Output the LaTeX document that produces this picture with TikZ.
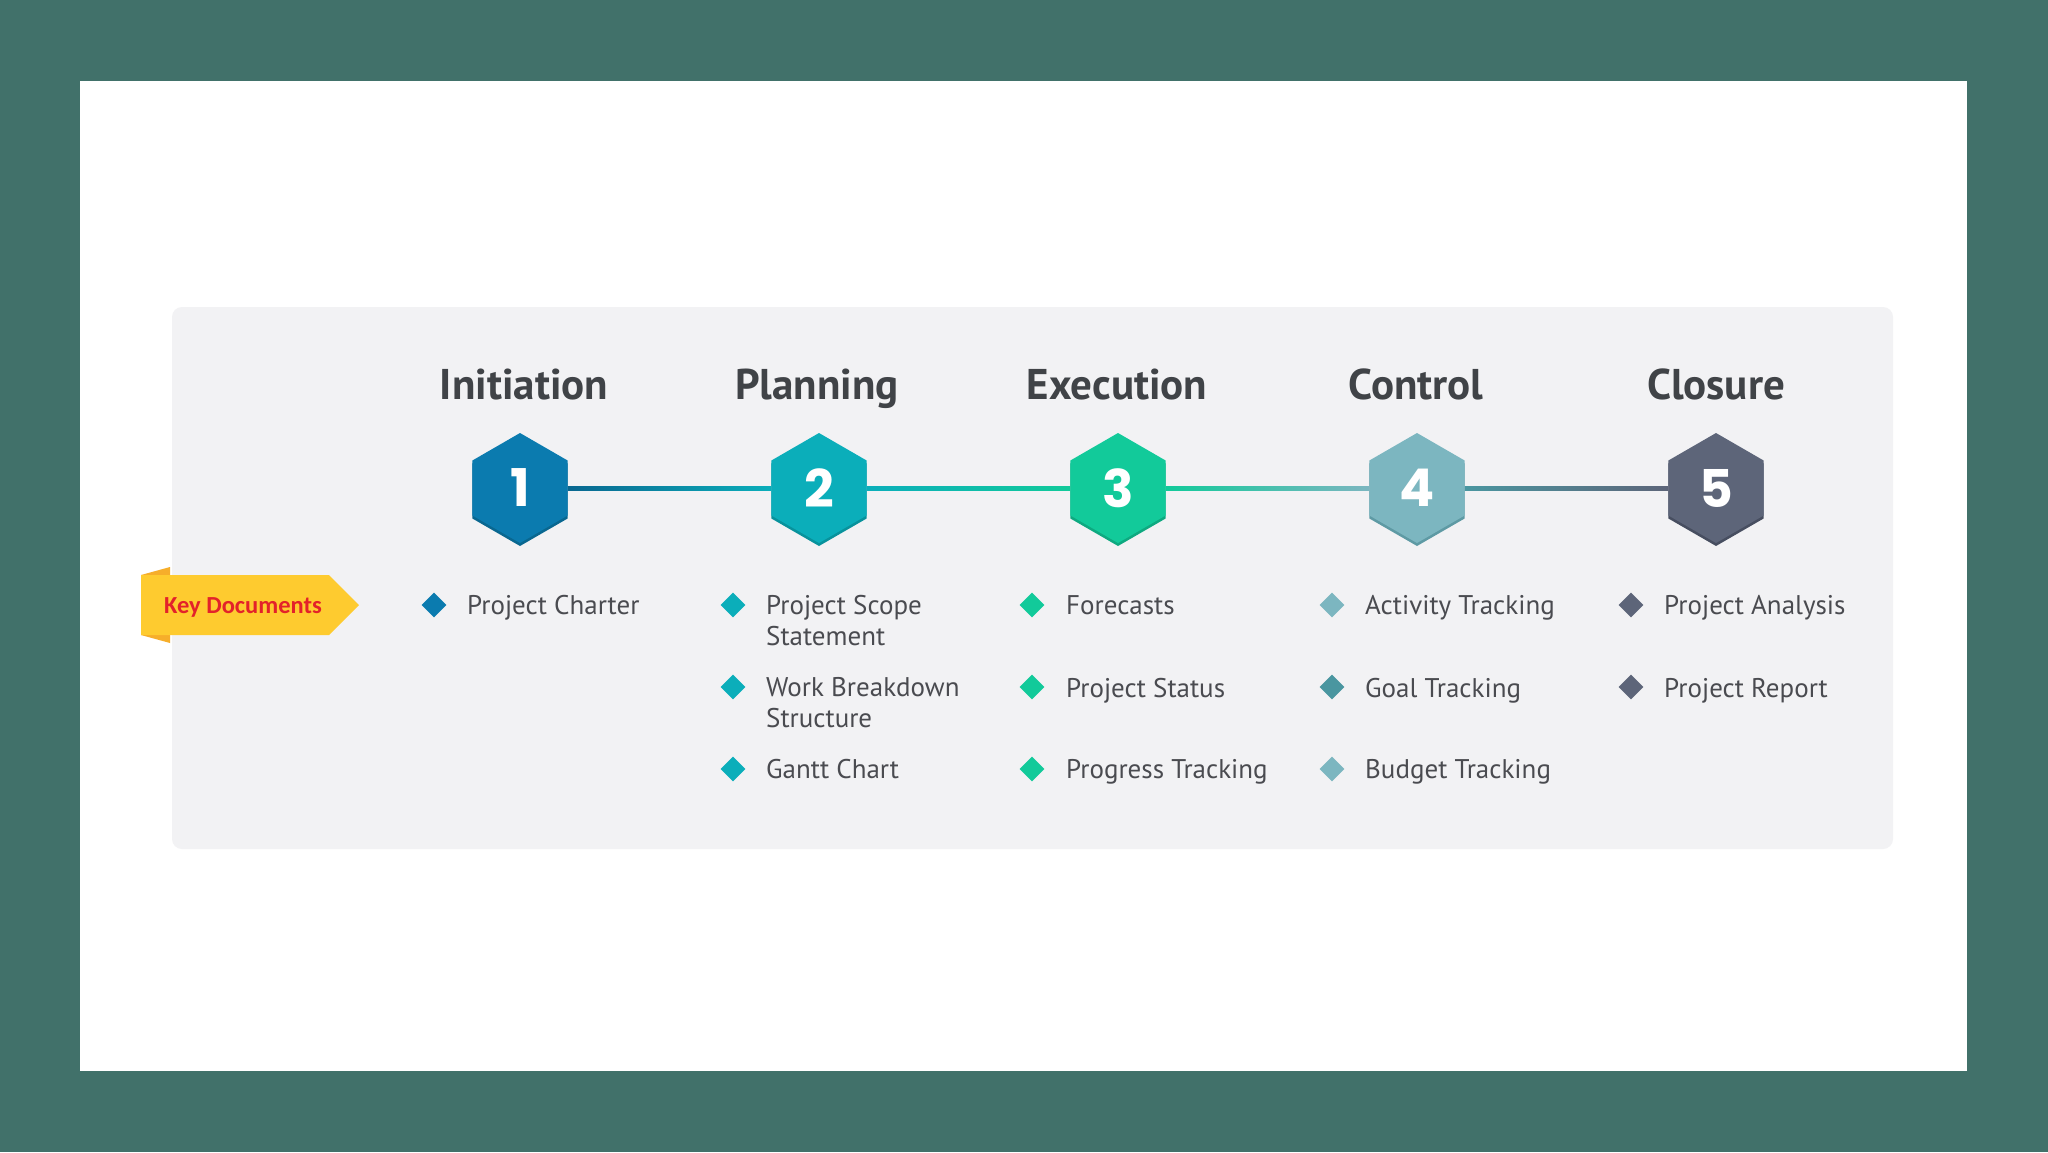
\documentclass[tikz,border=0pt]{standalone}
\usepackage{fontspec}
\setmainfont{PT Sans}
\newfontfamily\kdfont{Carlito}
\newfontfamily\numfont{Poppins}
\usetikzlibrary{shapes.geometric,calc}
\definecolor{bgteal}{HTML}{41716A}
\definecolor{panel}{HTML}{F2F2F4}
\definecolor{cA}{HTML}{0B7BAF}
\definecolor{cAd}{HTML}{096790}
\definecolor{cB}{HTML}{0BAEBA}
\definecolor{cBd}{HTML}{08929C}
\definecolor{cC}{HTML}{12CA9A}
\definecolor{cCd}{HTML}{0EA980}
\definecolor{cD}{HTML}{7CB6C0}
\definecolor{cDd}{HTML}{5E9AA4}
\definecolor{cDm}{HTML}{4A96A0}
\definecolor{cE}{HTML}{5D6579}
\definecolor{cEd}{HTML}{474E60}
\definecolor{titlecol}{HTML}{404347}
\definecolor{itemcol}{HTML}{4A4B50}
\definecolor{kdyellow}{HTML}{FECB2F}
\definecolor{kdorange}{HTML}{F6AE2A}
\definecolor{kdred}{HTML}{E3222A}
\tikzset{
  hexbox/.style={regular polygon, regular polygon sides=6, shape border rotate=30,
    minimum size=110pt, inner sep=0pt, draw=none, text=white,
    font=\numfont\bfseries\fontsize{52}{52}\selectfont},
  hexshadow/.style={regular polygon, regular polygon sides=6, shape border rotate=30,
    minimum size=110pt, inner sep=0pt, draw=none},
  phasetitle/.style={anchor=base, text=titlecol, inner sep=0pt,
    font=\bfseries\fontsize{43}{43}\selectfont},
  itemtext/.style={anchor=base west, text=itemcol, inner sep=0pt, align=left,
    font=\fontsize{27}{31}\selectfont},
  bullet/.style={diamond, minimum size=25pt, inner sep=0pt, draw=none}
}
\begin{document}
\begin{tikzpicture}[x=1pt,y=-1pt]
% background and frame
\fill[bgteal] (0,0) rectangle (2048,1152);
\useasboundingbox (0,0) rectangle (2048,1152);
\fill[white] (80,81) rectangle (1967,1071);
\fill[panel, rounded corners=10pt] (172,307) rectangle (1893,849);

% hexagon shadows
\foreach \x/\c in {520/cAd, 819/cBd, 1118/cCd, 1417/cDd, 1716/cEd}
  \node[hexshadow, fill=\c] at (\x,491) {};
% hexagons
\node[hexbox, fill=cA] (h1) at (520,488) {1};
\node[hexbox, fill=cB] (h2) at (819,488) {2};
\node[hexbox, fill=cC] (h3) at (1118,488) {3};
\node[hexbox, fill=cD] (h4) at (1417,488) {4};
\node[hexbox, fill=cE] (h5) at (1716,488) {5};

% connectors
\fill[left color=cAd, right color=cB] ($(h1.east)+(0,-2)$) rectangle ($(h2.west)+(0,2)$);
\fill[left color=cB, right color=cC] ($(h2.east)+(0,-2)$) rectangle ($(h3.west)+(0,2)$);
\fill[left color=cC, right color=cD] ($(h3.east)+(0,-2)$) rectangle ($(h4.west)+(0,2)$);
\fill[left color=cDm, right color=cE] ($(h4.east)+(0,-2)$) rectangle ($(h5.west)+(0,2)$);

% titles
\node[phasetitle] (t1) at (524,399) {Initiation};
\node[phasetitle] (t2) at (817,399) {Planning};
\node[phasetitle] (t3) at (1117,399) {Execution};
\node[phasetitle] (t4) at (1416,399) {Control};
\node[phasetitle] (t5) at (1716,399) {Closure};

% key documents banner
\fill[kdorange] (141,575) -- (170,567) -- (170,643) -- (141,635) -- cycle;
\fill[kdyellow] (141,575) -- (329,575) -- (359,605) -- (329,635) -- (141,635) -- cycle;
\node[anchor=base, inner sep=0pt, text=kdred, font=\kdfont\bfseries\fontsize{24.5}{24.5}\selectfont] (kd) at (243,613) {Key Documents};

% column 1
\node[bullet, fill=cA] (b11) at (434,605) {};
\node[itemtext] (i11) at (467,614) {Project Charter};
% column 2
\node[bullet, fill=cB] (b21) at (733,605) {};
\node[itemtext] (i21) at (766,645) {Project Scope\\Statement};
\node[bullet, fill=cB] (b22) at (733,687) {};
\node[itemtext] (i22) at (766,727) {Work Breakdown\\Structure};
\node[bullet, fill=cB] (b23) at (733,769) {};
\node[itemtext] (i23) at (766,778) {Gantt Chart};
% column 3
\node[bullet, fill=cC] (b31) at (1032,605) {};
\node[itemtext] (i31) at (1066,614) {Forecasts};
\node[bullet, fill=cC] (b32) at (1032,687) {};
\node[itemtext] (i32) at (1066,697) {Project Status};
\node[bullet, fill=cC] (b33) at (1032,769) {};
\node[itemtext] (i33) at (1066,778) {Progress Tracking};
% column 4
\node[bullet, fill=cD] (b41) at (1332,605) {};
\node[itemtext] (i41) at (1365,614) {Activity Tracking};
\node[bullet, fill=cDm] (b42) at (1332,687) {};
\node[itemtext] (i42) at (1365,697) {Goal Tracking};
\node[bullet, fill=cD] (b43) at (1332,769) {};
\node[itemtext] (i43) at (1365,778) {Budget Tracking};
% column 5
\node[bullet, fill=cE] (b51) at (1631,605) {};
\node[itemtext] (i51) at (1664,614) {Project Analysis};
\node[bullet, fill=cE] (b52) at (1631,687) {};
\node[itemtext] (i52) at (1664,697) {Project Report};
\end{tikzpicture}
\end{document}
